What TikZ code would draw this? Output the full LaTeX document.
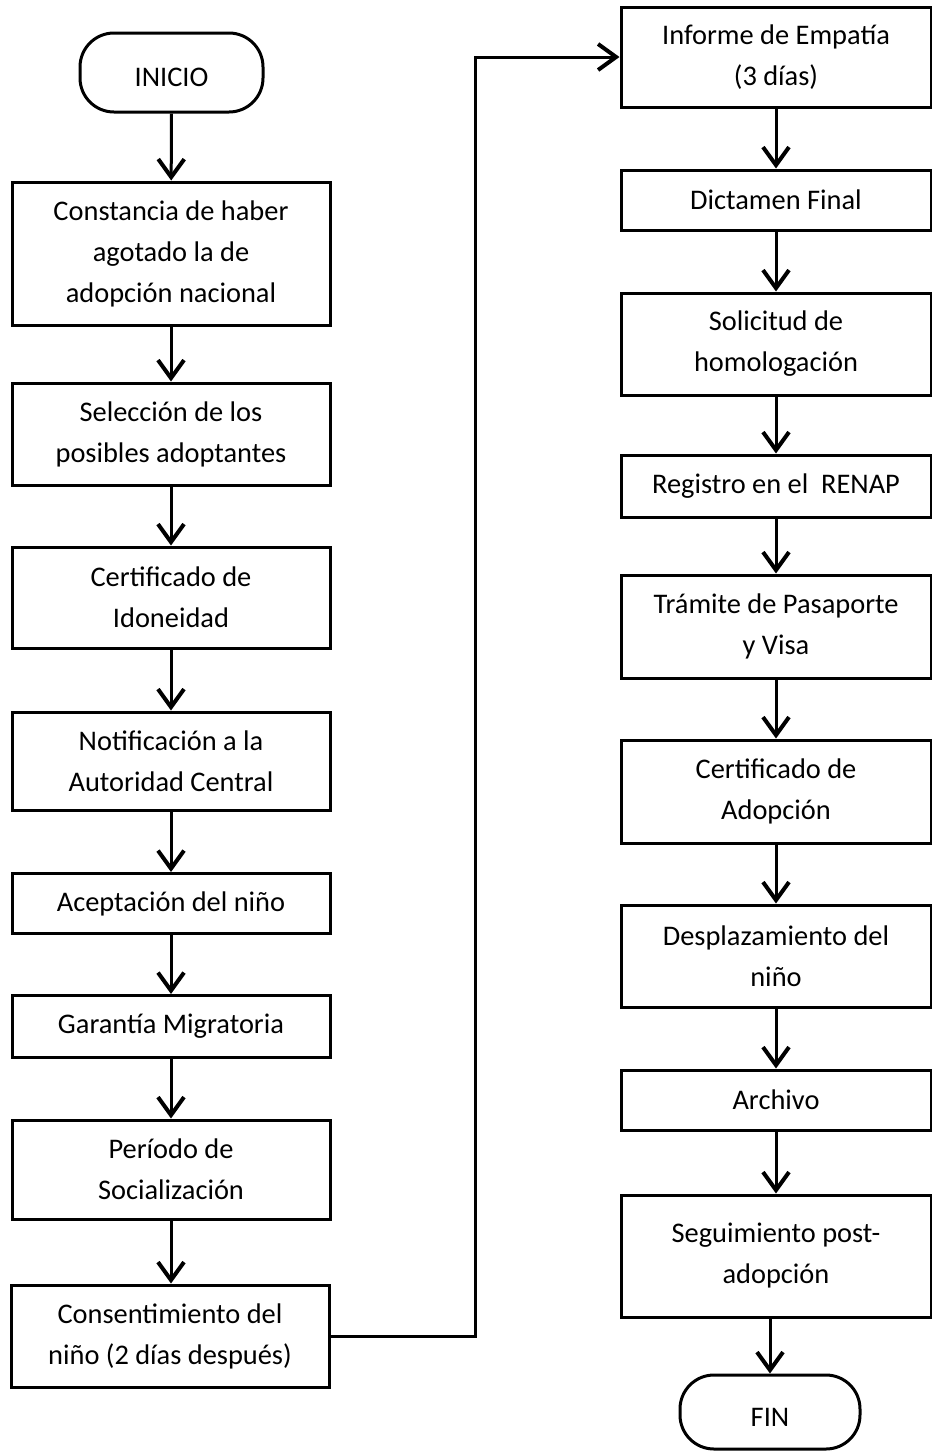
\documentclass[tikz,border=0pt]{standalone}
\usepackage{fontspec}
\setmainfont{Carlito}
\usetikzlibrary{arrows.meta}
\tikzset{
  box/.style={draw=black, line width=1.5pt, fill=white, inner sep=0pt, align=center,
    font=\fontsize{14.2}{20.5}\selectfont},
  term/.style={box, rounded corners=17pt, text height=14pt, text depth=0pt},
  flow/.style={line width=1.5pt, -{Straight Barb[length=9pt,width=13pt,line width=2pt]}},
}
\begin{document}
\begin{tikzpicture}[x=0.5pt,y=-0.5pt]
\useasboundingbox (0,0) rectangle (932,1452);
% left column
\node[term, minimum width=91.5pt, minimum height=39.5pt] (inicio) at (171.5,72.5) {INICIO};
\node[box, minimum width=159pt, minimum height=71.5pt] (b1) at (171,253.5) {Constancia de haber\\agotado la de\\adopción nacional};
\node[box, minimum width=159pt, minimum height=51pt] (b2) at (171,434) {Selección de los\\posibles adoptantes};
\node[box, minimum width=159pt, minimum height=50.5pt] (b3) at (171,597.5) {Certificado de\\Idoneidad};
\node[box, minimum width=159pt, minimum height=49pt] (b4) at (171,761) {Notificación a la\\Autoridad Central};
\node[box, minimum width=159pt, minimum height=30pt] (b5) at (171,903.5) {Aceptación del niño};
\node[box, minimum width=159pt, minimum height=31pt] (b6) at (171,1026.5) {Garantía Migratoria};
\node[box, minimum width=159pt, minimum height=49.5pt] (b7) at (171,1169.5) {Período de\\Socialización};
\node[box, minimum width=159pt, minimum height=51pt] (b8) at (170,1336) {Consentimiento del\\niño (2 días después)};
% right column
\node[box, minimum width=155pt, minimum height=50pt] (r1) at (776,57) {Informe de Empatía\\(3 días)};
\node[box, minimum width=155pt, minimum height=30pt] (r2) at (776,200) {Dictamen Final};
\node[box, minimum width=155pt, minimum height=51pt] (r3) at (776,344) {Solicitud de\\homologación};
\node[box, minimum width=155pt, minimum height=31pt] (r4) at (776,486) {Registro en el\ \ RENAP};
\node[box, minimum width=155pt, minimum height=51.5pt] (r5) at (776,626.5) {Trámite de Pasaporte\\y Visa};
\node[box, minimum width=155pt, minimum height=51.5pt] (r6) at (776,791.5) {Certificado de\\Adopción};
\node[box, minimum width=155pt, minimum height=51pt] (r7) at (776,956) {Desplazamiento del\\niño};
\node[box, minimum width=155pt, minimum height=30pt] (r8) at (776,1100) {Archivo};
\node[box, minimum width=155pt, minimum height=61pt] (r9) at (776,1256) {Seguimiento post-\\adopción};
\node[term, minimum width=90pt, minimum height=37pt] (fin) at (770,1412) {FIN};
% connectors
\draw[flow] (inicio) -- (b1);
\draw[flow] (b1) -- (b2);
\draw[flow] (b2) -- (b3);
\draw[flow] (b3) -- (b4);
\draw[flow] (b4) -- (b5);
\draw[flow] (b5) -- (b6);
\draw[flow] (b6) -- (b7);
\draw[flow] (b7.south) -- (b7.south |- b8.north);
\coordinate (bend) at (475,1336);
\draw[flow] (b8.east) -- (bend) |- (r1.west);
\draw[flow] (r1) -- (r2);
\draw[flow] (r2) -- (r3);
\draw[flow] (r3) -- (r4);
\draw[flow] (r4) -- (r5);
\draw[flow] (r5) -- (r6);
\draw[flow] (r6) -- (r7);
\draw[flow] (r7) -- (r8);
\draw[flow] (r8) -- (r9);
\draw[flow] (r9.south -| fin) -- (fin);
\end{tikzpicture}
\end{document}
